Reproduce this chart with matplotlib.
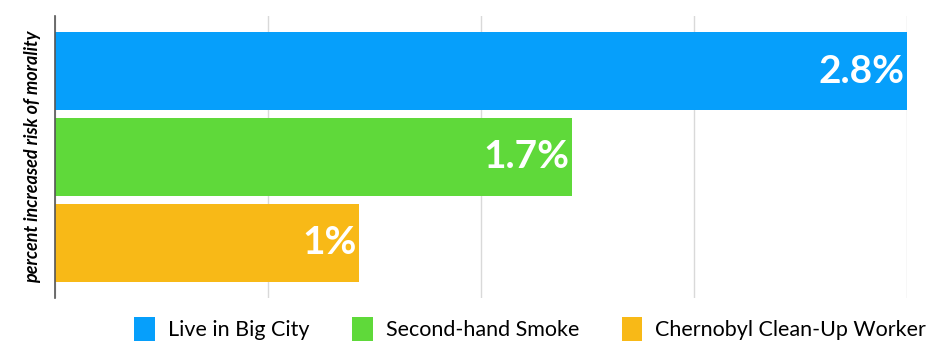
import matplotlib.pyplot as plt

# data
categories = ['Live in Big City', 'Second-hand Smoke', 'Chernobyl Clean-Up Worker']
values = [2.8, 1.7, 1.0]
value_labels = ['2.8%', '1.7%', '1%']
colors = ['#069FFB', '#5FD93A', '#F8B917']

plt.rcParams['font.family'] = ['Lato', 'DejaVu Sans']

fig = plt.figure(figsize=(9.39, 3.53), dpi=100)
ax = fig.add_axes([55 / 939, 1 - 298 / 353, (907 - 55) / 939, (298 - 16) / 353])

pos = list(range(len(categories)))
bars = ax.barh(pos, values, height=0.907, color=colors, label=categories, zorder=2)

# value labels inside bar ends
for p, v, txt in zip(pos, values, value_labels):
    ax.text(v - 0.008, p, txt, ha='right', va='center', color='white',
            fontsize=28, fontweight='bold', zorder=3)

ax.set_xlim(0, 2.8)
ax.set_ylim(2.64, -0.64)
ax.set_xticks([0, 0.7, 1.4, 2.1, 2.8])
ax.set_xticklabels([])
ax.set_yticks([])
ax.tick_params(axis='x', length=0)
ax.grid(axis='x', color='#d9d9d9', linewidth=1, zorder=0)
for s in ['top', 'right', 'bottom']:
    ax.spines[s].set_visible(False)
ax.spines['left'].set_color('#555555')
ax.spines['left'].set_linewidth(1.2)
ax.spines['left'].set_zorder(4)

fig.text(33 / 939, 1 - 157 / 353, 'percent increased risk of morality', rotation=90,
         ha='center', va='center', fontsize=13, fontweight='bold', style='italic')

fig.legend(handles=bars, labels=categories, loc='lower right',
           bbox_to_anchor=(1.007, -0.022), ncol=3, frameon=False, fontsize=15.5,
           handlelength=0.95, handleheight=1.35, handletextpad=0.6, columnspacing=2.0)

fig.savefig('out.png', dpi=100)
